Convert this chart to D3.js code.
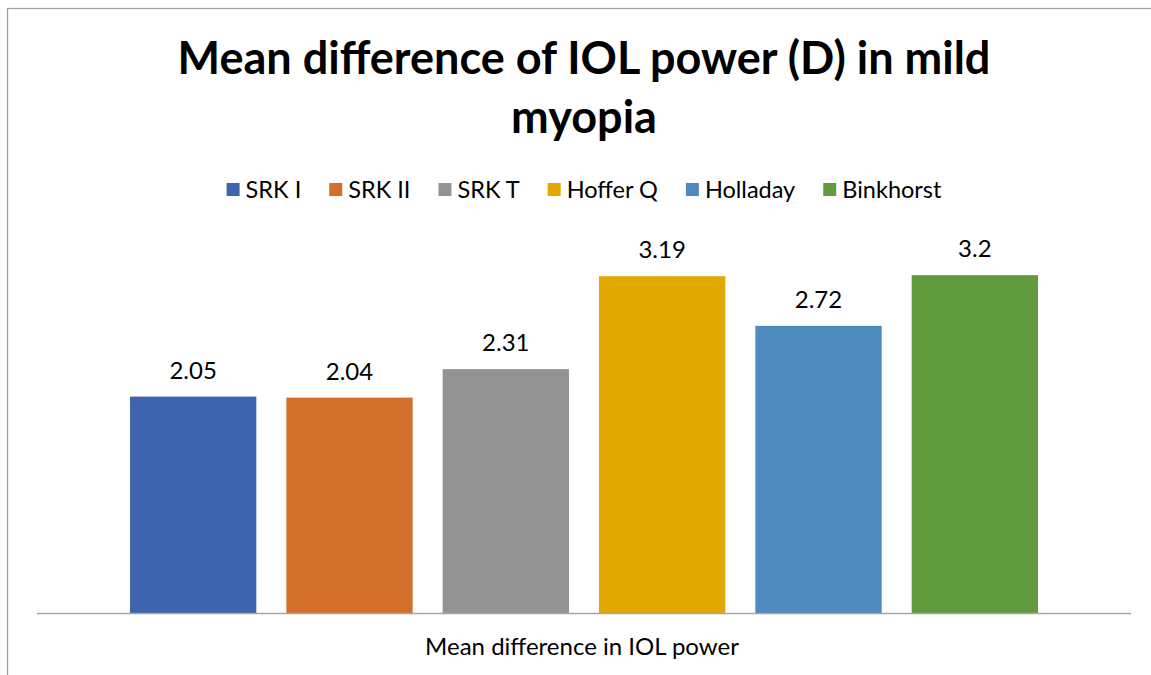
<!DOCTYPE html>
<html>
<head>
<meta charset="utf-8">
<script src="https://cdn.jsdelivr.net/npm/d3@7"></script>
<style>
    body { margin: 0; background: #fff; }
    text { font-family: Lato, "Open Sans", sans-serif; fill: #000; }
</style>
</head>
<body>
<div id="chart"></div>
<script>
// data
const titleLines = ["Mean difference of IOL power (D) in mild", "myopia"];
const series = ["SRK I", "SRK II", "SRK T", "Hoffer Q", "Holladay", "Binkhorst"];
const values = [2.05, 2.04, 2.31, 3.19, 2.72, 3.2];
const colors = ["#3e64ad", "#d36e2b", "#939393", "#e0a800", "#4f8abe", "#629a3e"];
const categoryLabel = "Mean difference in IOL power";
const yMax = 3.5;

const width = 1151,
      height = 675,
      centerX = 584,
      plotLeft = 37,
      plotRight = 1131,
      plotTop = 243.5,
      plotBottom = 613;

const svg = d3.select("#chart").append("svg")
    .attr("width", width)
    .attr("height", height);

//chart border (runs off the right and bottom)
svg.append("rect")
    .attr("x", 7.5)
    .attr("y", 8.5)
    .attr("width", width + 20)
    .attr("height", height + 20)
    .attr("fill", "none")
    .attr("stroke", "#a0a0a0")
    .attr("stroke-width", 1.3);

//Set up scales
const x = d3.scaleBand()
    .domain(series)
    .range([plotLeft, plotRight])
    .paddingInner(0.192)
    .paddingOuter(0.595);

const y = d3.scaleLinear()
    .domain([0, yMax])
    .range([plotBottom, plotTop]);

//title, shrunk/grown to its width in the reference
const title = svg.append("g");
title.selectAll("text")
    .data(titleLines)
    .enter()
    .append("text")
    .attr("x", centerX)
    .attr("y", (d, i) => 74 + i * 59)
    .attr("text-anchor", "middle")
    .attr("font-weight", "bold")
    .attr("font-size", 44)
    .text(d => d);
const firstLine = title.select("text").node();
const fitSize = 44 * 813 / firstLine.getComputedTextLength();
title.selectAll("text").attr("font-size", fitSize);

//legend
const legend = svg.append("g");
const items = legend.selectAll("g.item")
    .data(series)
    .enter()
    .append("g")
    .attr("class", "item");
items.append("rect")
    .attr("width", 13)
    .attr("height", 13)
    .attr("y", 183)
    .attr("fill", (d, i) => colors[i]);
items.append("text")
    .attr("x", 19)
    .attr("y", 197.5)
    .attr("font-size", 23.5)
    .text(d => d);

let offset = 0;
const positions = [];
items.each(function() {
    positions.push(offset);
    offset += 19 + this.querySelector("text").getComputedTextLength() + 28;
});
const legendWidth = offset - 28;
const legendLeft = centerX - legendWidth / 2;
items.attr("transform", (d, i) => "translate(" + (legendLeft + positions[i]) + ",0)");

//bars
svg.selectAll("rect.bar")
    .data(values)
    .enter()
    .append("rect")
    .attr("class", "bar")
    .attr("x", (d, i) => x(series[i]))
    .attr("y", d => y(d))
    .attr("width", x.bandwidth())
    .attr("height", d => y(0) - y(d))
    .attr("fill", (d, i) => colors[i]);

//value labels
svg.selectAll("text.label")
    .data(values)
    .enter()
    .append("text")
    .attr("class", "label")
    .attr("x", (d, i) => x(series[i]) + x.bandwidth() / 2)
    .attr("y", d => y(d) - 18)
    .attr("text-anchor", "middle")
    .attr("font-size", 24)
    .text(d => d);

//baseline
svg.append("line")
    .attr("x1", plotLeft)
    .attr("x2", plotRight)
    .attr("y1", y(0) + 0.5)
    .attr("y2", y(0) + 0.5)
    .attr("stroke", "#a6a6a6")
    .attr("stroke-width", 1.6);

//category label
svg.append("text")
    .attr("x", 582)
    .attr("y", 655)
    .attr("text-anchor", "middle")
    .attr("font-size", 24)
    .text(categoryLabel);
</script>
</body>
</html>
